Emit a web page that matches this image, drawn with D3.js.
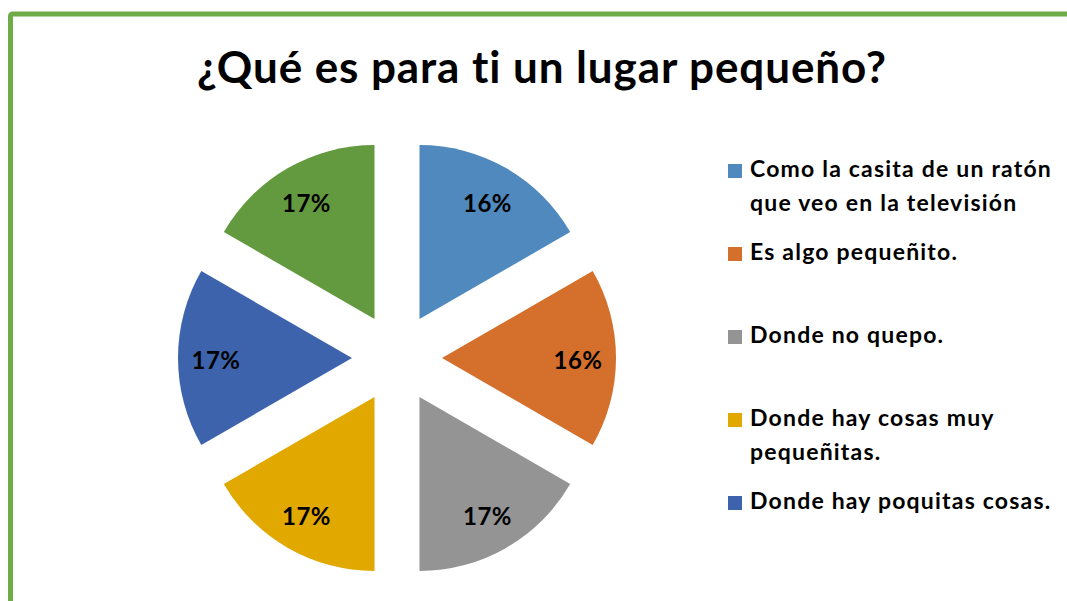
<!DOCTYPE html>
<html>
<head>
<meta charset="utf-8">
<script src="https://cdn.jsdelivr.net/npm/d3@7"></script>
<style>
  body { margin: 0; background: #fff; }
  text { font-family: Lato, "Open Sans", sans-serif; font-weight: bold; fill: #000;
         font-variant-ligatures: none; font-feature-settings: "liga" 0; }
</style>
</head>
<body>
<div class="chart"></div>
<script>
// data
const title = "¿Qué es para ti un lugar pequeño?";
const categories = [
    "Como la casita de un ratón que veo en la televisión",
    "Es algo pequeñito.",
    "Donde no quepo.",
    "Donde hay cosas muy pequeñitas.",
    "Donde hay poquitas cosas.",
    ""   // sixth entry is cut off in the legend
];
// legend lines as wrapped in the picture
const legendLines = [
    ["Como la casita de un ratón", "que veo en la televisión"],
    ["Es algo pequeñito."],
    ["Donde no quepo."],
    ["Donde hay cosas muy", "pequeñitas."],
    ["Donde hay poquitas cosas."]
];
// every slice is drawn as an equal sixth; labels are the rounded shares shown
const shares = [1, 1, 1, 1, 1, 1];
const pctLabels = ["16%", "16%", "17%", "17%", "17%", "17%"];
const colors = ["#4f89bd", "#d46f2c", "#949494", "#e1a800", "#3c63ac", "#639a3f"];

const width = 1067, height = 601;
const cx = 397, cy = 358, radius = 174, explode = 45, labelR = 136;

const svg = d3.select(".chart").append("svg")
    .attr("width", width)
    .attr("height", height);

//Frame (right and bottom edges fall outside the picture)
svg.append("rect")
    .attr("x", 10.5).attr("y", 14)
    .attr("width", 1200).attr("height", 800)
    .attr("rx", 2)
    .attr("fill", "none")
    .attr("stroke", "#6fac47")
    .attr("stroke-width", 5);

//Title, fitted to the width it takes in the original
const titleText = svg.append("text")
    .attr("x", 542).attr("y", 83)
    .attr("text-anchor", "middle")
    .style("font-size", "44px")
    .text(title);
const tw = titleText.node().getComputedTextLength();
titleText.style("letter-spacing", ((690 - tw) / title.length) + "px");

//Pie
const pie = d3.pie().sort(null).value(d => d)(shares);
const arc = d3.arc().innerRadius(0).outerRadius(radius);
const labelArc = d3.arc().innerRadius(labelR).outerRadius(labelR);

const slices = svg.append("g")
    .attr("transform", "translate(" + cx + "," + cy + ")")
    .selectAll("g")
    .data(pie)
    .join("g")
    .attr("transform", function(d){
        const mid = (d.startAngle + d.endAngle) / 2;
        return "translate(" + (explode * Math.sin(mid)) + "," + (-explode * Math.cos(mid)) + ")";
    });

slices.append("path")
    .attr("d", arc)
    .attr("fill", (d, i) => colors[i]);

slices.append("text")
    .attr("transform", d => "translate(" + labelArc.centroid(d) + ")")
    .attr("text-anchor", "middle")
    .attr("dy", "0.44em")
    .style("font-size", "24px")
    .style("letter-spacing", "0.5px")
    .text((d, i) => pctLabels[i]);

//Legend
const legend = svg.append("g")
    .selectAll("g")
    .data(legendLines)
    .join("g")
    .attr("transform", (d, i) => "translate(728," + (177 + i * 83) + ")");

legend.append("rect")
    .attr("x", 0).attr("y", -13)
    .attr("width", 14).attr("height", 14)
    .attr("fill", (d, i) => colors[i]);

const legendText = legend.append("text")
    .attr("x", 22)
    .style("font-size", "23px");

legendText.selectAll("tspan")
    .data(d => d)
    .join("tspan")
    .attr("x", 22)
    .attr("y", (d, i) => i * 34)
    .text(d => d);

// spread letters so the longest line spans the same width as in the original
const probe = legendText.select("tspan").node();
const lw = probe.getComputedTextLength();
legendText.style("letter-spacing", ((302 - lw) / legendLines[0][0].length) + "px");
</script>
</body>
</html>
